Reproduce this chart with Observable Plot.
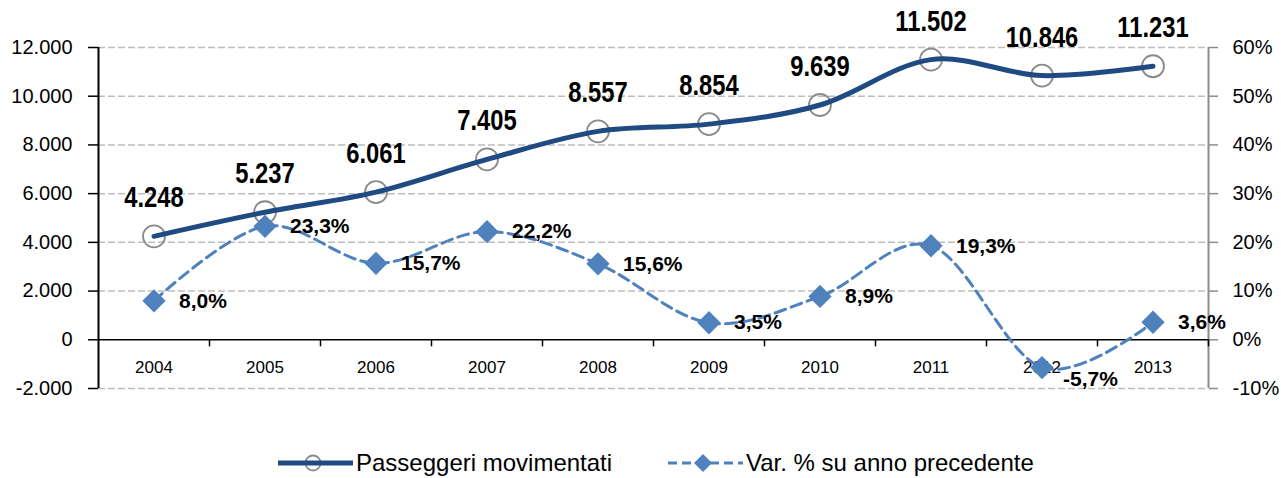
<!DOCTYPE html>
<html><head><meta charset="utf-8">
<script src="https://cdn.jsdelivr.net/npm/d3@7"></script>
<script src="https://cdn.jsdelivr.net/npm/@observablehq/plot@0.6"></script>
<style>
body{margin:0;background:#fff;font-family:"Liberation Sans",Arial,sans-serif;}
#legend{position:relative;height:30px;margin-top:8px;font-size:24px;line-height:30px;color:#000;}
.item{position:absolute;top:0;height:30px;display:flex;align-items:center;white-space:nowrap;}
.item svg{display:block;margin-right:3px;}
</style></head><body>
<div id="chart"></div>
<div id="legend"></div>
<script>
const years = [2004, 2005, 2006, 2007, 2008, 2009, 2010, 2011, 2012, 2013];
const passengers = [4248, 5237, 6061, 7405, 8557, 8854, 9639, 11502, 10846, 11231];
const variation = [8.0, 23.3, 15.7, 22.2, 15.6, 3.5, 8.9, 19.3, -5.7, 3.6];
const leftTicks = [-2000, 0, 2000, 4000, 6000, 8000, 10000, 12000];
const seriesNames = ["Passeggeri movimentati", "Var. % su anno precedente"];

const pctToLeft = 200; // 60% on right axis <-> 12.000 on left axis
const navy = "#1f4a82", blue = "#4f81bd";

const it = d3.formatLocale({decimal: ",", thousands: ".", grouping: [3], currency: ["", "€"], minus: "-"});
const fmtInt = it.format(",");
const fmtPct = it.format(",.1f");

const data = years.map((y, i) => ({year: y, pax: passengers[i], pct: variation[i], pctY: variation[i] * pctToLeft}));
const bounds = years.slice(0, -1).map(y => y + 0.5);
const xDomain = [years[0] - 0.5, years[years.length - 1] + 0.5];

const chart = Plot.plot({
  width: 1281, height: 440,
  marginTop: 47, marginBottom: 52, marginLeft: 98, marginRight: 73,
  style: {fontFamily: '"Liberation Sans", Arial, sans-serif', background: "#fff", color: "#000"},
  x: {domain: xDomain, axis: null},
  y: {domain: [leftTicks[0], leftTicks[leftTicks.length - 1]], axis: null},
  marks: [
    Plot.ruleY(leftTicks.filter(d => d !== 0), {stroke: "#bdbdbd", strokeWidth: 1.5, strokeDasharray: "7,3"}),
    Plot.axisY({anchor: "left", ticks: leftTicks, tickSize: 10, tickPadding: 16, tickFormat: fmtInt, fontSize: 20, strokeWidth: 1.5}),
    Plot.axisY({anchor: "right", ticks: leftTicks, tickSize: 9, tickFormat: () => "", color: "#8c8c8c", strokeWidth: 1.5}),
    Plot.axisY({anchor: "right", ticks: leftTicks, tickSize: 0, tickPadding: 24, tickFormat: d => `${d / pctToLeft}%`, fontSize: 20, textAnchor: "start"}),
    Plot.ruleX([xDomain[1]], {stroke: "#8c8c8c", strokeWidth: 2}),
    Plot.ruleX([xDomain[0]], {stroke: "#000", strokeWidth: 2}),
    Plot.ruleY([0], {stroke: "#000", strokeWidth: 1.5}),
    Plot.ruleX(bounds.concat([xDomain[1]]), {y1: 0, y2: -290, stroke: "#000", strokeWidth: 1.5}),
    Plot.text(years, {x: d => d, y: () => 0, text: d => String(d), dy: 27.5, fontSize: 17, lineAnchor: "middle"}),
    Plot.line(data, {x: "year", y: "pctY", curve: "cardinal", stroke: blue, strokeWidth: 3, strokeDasharray: "11,6"}),
    Plot.dot(data, {x: "year", y: "pax", r: 11, stroke: "#8a8a8a", strokeWidth: 1.8, fill: "none"}),
    Plot.line(data, {x: "year", y: "pax", curve: "cardinal", stroke: navy, strokeWidth: 5}),
    Plot.dot(data, {x: "year", y: "pctY", symbol: "diamond2", r: 10.5, fill: blue, stroke: "none"}),
    Plot.text(data, {x: "year", y: "pax", text: d => fmtInt(d.pax), dy: -29, lineAnchor: "bottom", fontSize: 29, fontWeight: "bold"}),
    Plot.text(data.filter(d => d.pct >= 0), {x: "year", y: "pctY", text: d => fmtPct(d.pct) + "%", dx: 25, textAnchor: "start", lineAnchor: "middle", fontSize: 21, fontWeight: "bold"}),
    Plot.text(data.filter(d => d.pct < 0), {x: "year", y: "pctY", text: d => fmtPct(d.pct) + "%", dx: 21, dy: 12, textAnchor: "start", lineAnchor: "middle", fontSize: 21, fontWeight: "bold"})
  ]
});
document.getElementById("chart").appendChild(chart);

// condense the big value labels (narrow bold type in the original)
chart.querySelectorAll('g[font-size="29"] text').forEach(el => {
  const t = el.getAttribute("transform") || "";
  const x = el.getAttribute("x"), y = el.getAttribute("y");
  el.removeAttribute("x"); el.removeAttribute("y");
  el.setAttribute("transform", `${t} translate(${x || 0},${y || 0}) scale(0.82,1)`);
});

// legend
const legend = document.getElementById("legend");
function item(left, swatch, label) {
  const div = document.createElement("div");
  div.className = "item";
  div.style.left = left + "px";
  div.innerHTML = swatch + `<span>${label}</span>`;
  legend.appendChild(div);
}
item(278, `<svg width="75" height="30"><circle cx="35" cy="15" r="7.5" fill="none" stroke="#8a8a8a" stroke-width="1.8"/><line x1="0" y1="15" x2="75" y2="15" stroke="${navy}" stroke-width="5"/></svg>`, seriesNames[0]);
item(668, `<svg width="75" height="30"><line x1="0" y1="15" x2="75" y2="15" stroke="${blue}" stroke-width="3" stroke-dasharray="9,5"/><path d="M35,6L44,15L35,24L26,15Z" fill="${blue}"/></svg>`, seriesNames[1]);
</script>
</body></html>
